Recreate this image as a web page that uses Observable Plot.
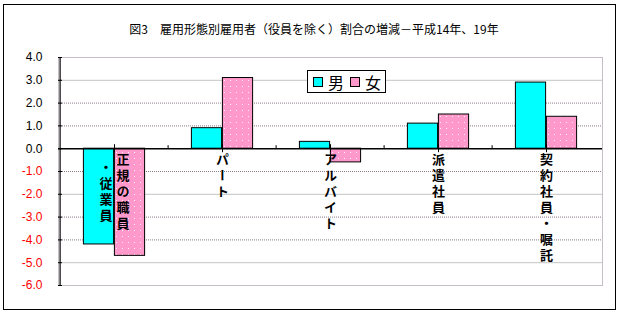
<!DOCTYPE html>
<html><head><meta charset="utf-8">
<script src="https://cdn.jsdelivr.net/npm/d3@7"></script>
<script src="https://cdn.jsdelivr.net/npm/@observablehq/plot@0.6"></script>
<style>
body{margin:0;background:#fff;}
#wrap{position:relative;width:620px;height:316px;overflow:hidden;background:#fff;}
#chart{position:absolute;left:0;top:0;}
#frame{position:absolute;left:3px;top:4px;width:611px;height:304px;border:1px solid #000;pointer-events:none;}
#title{position:absolute;left:0;top:20px;width:628px;text-align:center;font:12px "Noto Sans CJK JP";color:#000;white-space:nowrap;}
#legend{position:absolute;left:307px;top:70px;width:77px;height:21px;border:1px solid #000;background:#fff;display:flex;align-items:center;font:16px "Noto Sans CJK JP";line-height:16px;}
#legend .sw{width:8px;height:8px;border:1px solid #000;display:inline-block;}
#legend .lt{display:inline-block;margin-left:5px;}
</style></head>
<body>
<div id="wrap">
  <div id="chart"></div>
  <div id="title"></div>
  <div id="legend"></div>
  <div id="frame"></div>
</div>
<script>
const titleText = "図3　雇用形態別雇用者（役員を除く）割合の増減－平成14年、19年";
const categories = ["正規の職員・従業員", "パート", "アルバイト", "派遣社員", "契約社員・嘱託"];
const labelColumns = [["正規の職員", "・従業員"], ["パート"], ["アルバイト"], ["派遣社員"], ["契約社員・嘱託"]];
const series = ["男", "女"];
const maleValues = [-4.2, 0.9, 0.3, 1.1, 2.9];
const femaleValues = [-4.7, 3.1, -0.6, 1.5, 1.4];
const yTicks = [4, 3, 2, 1, 0, -1, -2, -3, -4, -5, -6];
const solidGrid = [3, -2, -5];
const dottedGrid = [2, 1, -1, -3, -4];

const colors = {"男": "#00ffff", "女": "url(#dots)"};
const legendColors = {"男": "#00ffff", "女": "#ff99cc"};

const rows = [];
categories.forEach((c, i) => {
  rows.push({category: c, sex: series[0], value: maleValues[i]});
  rows.push({category: c, sex: series[1], value: femaleValues[i]});
});

const pitch = 16;
const labelRows = [];
labelColumns.forEach((cols, i) => {
  const maxLen = d3.max(cols, s => s.length);
  cols.forEach((s, j) => {
    labelRows.push({
      category: categories[i], text: s,
      dx: ((cols.length - 1) / 2 - j) * 17,
      dy: 4 + (maxLen - s.length) / 2 * pitch
    });
  });
});
const labelTexts = new Set(labelRows.map(r => r.text));

const W = 620, H = 316, mL = 58, mR = 18, mT = 57, mB = 31;
const band = (W - mL - mR) / categories.length;
const outer = 23.4, inner = band / 2;

const labelMarks = labelRows.map(r => Plot.text([r], {
  x: "category", y: 0, text: "text", dx: r.dx, dy: r.dy,
  textAnchor: "start", lineAnchor: "bottom",
  fontSize: 13, fontWeight: "bold", fontFamily: "Noto Sans CJK JP",
  fill: "#000"
}));

const chart = Plot.plot({
  width: W, height: H,
  marginLeft: mL, marginRight: mR, marginTop: mT, marginBottom: mB,
  style: {background: "transparent", fontFamily: "Liberation Sans"},
  x: {domain: categories, padding: 0, axis: null},
  y: {domain: [-6, 4], axis: null},
  marks: [
    Plot.ruleY(solidGrid, {stroke: "#c4c4c4"}),
    Plot.ruleY(dottedGrid, {stroke: "#8c7c8c", strokeDasharray: "1,1"}),
    Plot.frame({stroke: "#8c7c8c", strokeDasharray: "1,1"}),
    Plot.barY(rows, {filter: d => d.sex === series[0], x: "category", y: "value",
      fill: colors["男"], stroke: "#000", strokeWidth: 1, insetLeft: outer, insetRight: inner}),
    Plot.barY(rows, {filter: d => d.sex === series[1], x: "category", y: "value",
      fill: colors["女"], stroke: "#000", strokeWidth: 1, insetLeft: inner, insetRight: outer}),
    Plot.ruleY([0], {stroke: "#000", strokeWidth: 1.5}),
    Plot.ruleX(categories.slice(1), {x: d => d, dx: -band / 2, y1: 0, y2: 0, insetTop: -3, insetBottom: 0, stroke: "#000"}),
    Plot.ruleX(categories, {x: d => d, y1: 0, y2: 0, insetTop: -4, insetBottom: -4, stroke: "#000"}),
    Plot.ruleY(yTicks, {insetRight: W - mL - mR - 4, stroke: "#000"}),
    Plot.ruleX([categories[0]], {x: d => d, dx: -band / 2, stroke: "#000", strokeWidth: 1.2}),
    Plot.text(yTicks, {filter: d => d >= 0, y: d => d, text: d => d.toFixed(1), frameAnchor: "left",
      textAnchor: "end", dx: -16, fill: "#000", fontSize: 12}),
    Plot.text(yTicks, {filter: d => d < 0, y: d => d, text: d => d.toFixed(1), frameAnchor: "left",
      textAnchor: "end", dx: -16, fill: "#ff0000", fontSize: 12}),
    ...labelMarks
  ]
});

// pattern for the female bars
const svg = d3.select(chart);
const defs = svg.insert("defs", ":first-child");
const pat = defs.append("pattern").attr("id", "dots").attr("patternUnits", "userSpaceOnUse")
  .attr("width", 6).attr("height", 6);
pat.append("rect").attr("width", 6).attr("height", 6).attr("fill", "#ff99cc");
pat.append("rect").attr("x", 2).attr("y", 2).attr("width", 1).attr("height", 1).attr("fill", "#ffffff").attr("opacity", 0.85);

// vertical Japanese category labels
svg.selectAll("text")
  .filter(function() { return labelTexts.has(this.textContent); })
  .attr("writing-mode", "vertical-rl")
  .style("writing-mode", "vertical-rl")
  .style("letter-spacing", "3px");

document.getElementById("chart").appendChild(chart);
document.getElementById("title").textContent = titleText;

const lg = d3.select("#legend");
series.forEach((s, i) => {
  lg.append("span").attr("class", "sw").style("background", legendColors[s])
    .style("margin-left", i === 0 ? "5px" : "6px");
  lg.append("span").attr("class", "lt").text(s);
});
</script>
</body></html>
